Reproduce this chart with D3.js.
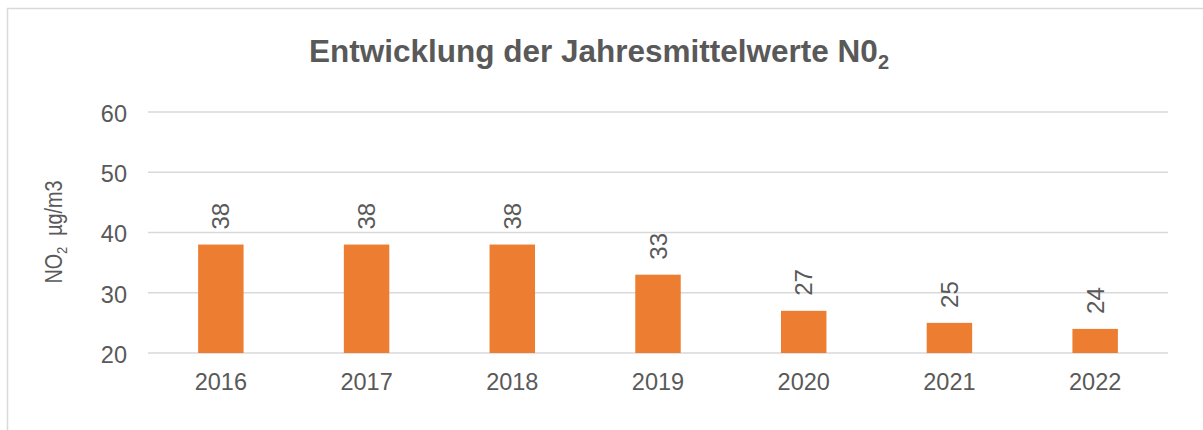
<!DOCTYPE html>
<html>
<head>
<meta charset="utf-8">
<script src="https://cdn.jsdelivr.net/npm/d3@7"></script>
<style>
  body { margin: 0; background: #fff; }
  text { font-family: "Liberation Sans", Arial, sans-serif; fill: #595959; }
</style>
</head>
<body>
<div id="chart"></div>
<script>
var years = ["2016", "2017", "2018", "2019", "2020", "2021", "2022"];
var no2Values = [38, 38, 38, 33, 27, 25, 24];
var yTicks = [20, 30, 40, 50, 60];

var svgWidth = 1203;
var svgHeight = 430;

var margin = { top: 112, right: 35, bottom: 77, left: 148 };
var width = svgWidth - margin.left - margin.right;
var height = svgHeight - margin.top - margin.bottom;

var svg = d3.select("#chart")
  .append("svg")
  .attr("width", svgWidth)
  .attr("height", svgHeight);

// chart frame (only top and left edges fall inside the picture)
svg.append("rect")
  .attr("x", 7.5)
  .attr("y", 8.5)
  .attr("width", 1400)
  .attr("height", 600)
  .attr("fill", "none")
  .attr("stroke", "#d9d9d9")
  .attr("stroke-width", 1.5);

var chartGroup = svg.append("g")
  .attr("transform", `translate(${margin.left}, ${margin.top})`);

var xScale = d3.scaleBand()
  .domain(years)
  .range([0, width])
  .paddingInner(0.688)
  .paddingOuter(0.344);

var yScale = d3.scaleLinear()
  .domain([20, 60])
  .range([height, 0]);

// gridlines
chartGroup.append("g")
  .selectAll("line")
  .data(yTicks)
  .enter()
  .append("line")
  .attr("x1", 0)
  .attr("x2", width)
  .attr("y1", d => yScale(d))
  .attr("y2", d => yScale(d))
  .attr("stroke", "#d9d9d9")
  .attr("stroke-width", 1.5);

// y axis labels
var yAxis = d3.axisLeft(yScale).tickValues(yTicks).tickSize(0).tickPadding(21);
chartGroup.append("g")
  .call(yAxis)
  .call(g => g.select(".domain").remove())
  .selectAll("text")
  .style("font-size", "23.5px")
  .style("fill", "#595959")
  .attr("dy", "0.4em");

// x axis labels
var xAxis = d3.axisBottom(xScale).tickSize(0).tickPadding(20);
chartGroup.append("g")
  .attr("transform", `translate(0, ${height})`)
  .call(xAxis)
  .call(g => g.select(".domain").remove())
  .selectAll("text")
  .style("font-size", "23.5px")
  .style("fill", "#595959");

// bars
chartGroup.selectAll(".bar")
  .data(no2Values)
  .enter()
  .append("rect")
  .attr("class", "bar")
  .attr("x", (d, i) => xScale(years[i]))
  .attr("y", d => yScale(d))
  .attr("width", xScale.bandwidth())
  .attr("height", d => height - yScale(d))
  .attr("fill", "#ED7D31");

// value labels, rotated
chartGroup.selectAll(".label")
  .data(no2Values)
  .enter()
  .append("text")
  .attr("class", "label")
  .attr("transform", (d, i) =>
    `translate(${xScale(years[i]) + xScale.bandwidth() / 2}, ${yScale(d) - 15}) rotate(-90)`)
  .attr("dy", "0.36em")
  .style("font-size", "24px")
  .text(d => d);

// title
var title = svg.append("text")
  .attr("x", 599)
  .attr("y", 62)
  .attr("text-anchor", "middle")
  .style("font-size", "31.5px")
  .style("font-weight", "bold");
title.append("tspan").text("Entwicklung der Jahresmittelwerte N0");
title.append("tspan")
  .attr("dy", 7)
  .style("font-size", "20px")
  .text("2");

// y axis title
var yTitle = svg.append("text")
  .attr("transform", "translate(62, 232) rotate(-90) scale(0.86, 1)")
  .attr("text-anchor", "middle")
  .style("font-size", "23px");
yTitle.append("tspan").text("NO");
yTitle.append("tspan")
  .attr("dy", 5)
  .style("font-size", "15px")
  .text("2");
yTitle.append("tspan")
  .attr("dy", -5)
  .text("\u00a0 µg/m3");
</script>
</body>
</html>
